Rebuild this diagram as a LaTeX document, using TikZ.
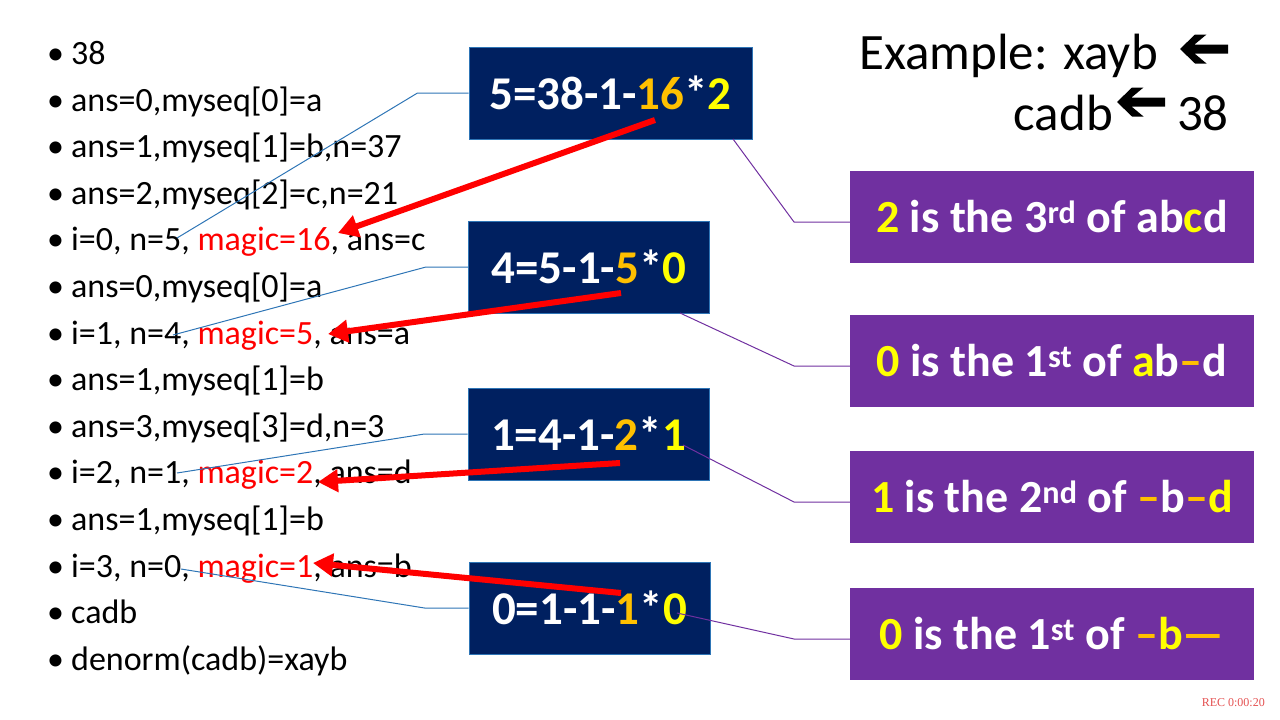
\documentclass[tikz,border=0pt]{standalone}
\usepackage{fontspec}
\setmainfont{Carlito}
\newfontfamily\recfont{Liberation Serif}
\usetikzlibrary{arrows.meta}
\definecolor{slide_navy}{RGB}{0, 32, 96}
\definecolor{slide_edge}{RGB}{46, 117, 182}
\definecolor{slide_purple}{RGB}{112, 48, 160}
\definecolor{slide_gold}{RGB}{255, 192, 0}
\definecolor{slide_yellow}{RGB}{255, 255, 0}
\definecolor{slide_red}{RGB}{255, 0, 0}
\definecolor{slide_rec}{RGB}{228, 80, 80}
\newcommand{\bul}{\makebox[24pt][l]{•}}
\newcommand{\mg}[1]{\textcolor{slide_red}{#1}}
\newcommand{\go}[1]{\textcolor{slide_gold}{#1}}
\newcommand{\ye}[1]{\textcolor{slide_yellow}{#1}}
\newcommand{\heavyleft}[1]{\fill #1 -- ++(15,-14.5) -- ++(11.5,0) -- ++(-12,10)
  -- ++(33.5,0) -- ++(0,9) -- ++(-33.5,0) -- ++(12,10) -- ++(-11.5,0) -- cycle;}

\begin{document}
\begin{tikzpicture}[
        x=1pt, y=-1pt,
        every node/.style={inner sep=0pt},
        item/.style={anchor=base west, font=\fontsize{34}{40}\selectfont},
        formula/.style={draw=slide_edge, line width=1pt, fill=slide_navy, text=white,
                        font=\bfseries\fontsize{47}{56}\selectfont, minimum height=92pt},
        result/.style={fill=slide_purple, text=white, font=\bfseries\fontsize{46}{55}\selectfont,
                       minimum width=404pt, minimum height=92pt},
        leadblue/.style={draw=slide_edge, line width=1pt},
        leadpurple/.style={draw=slide_purple, line width=1pt},
        magicarrow/.style={draw=slide_red, line width=6pt, -{Triangle[length=20pt, width=22pt]}},
      ]
        \useasboundingbox (0,0) rectangle (1280,720);

        % trace of the decoding
        \node[item] (l1)  at (47,64)  {\bul 38};
        \node[item] (l2)  at (47,111) {\bul ans=0,myseq[0]=a};
        \node[item] (l3)  at (47,157) {\bul ans=1,myseq[1]=b,n=37};
        \node[item] (l4)  at (47,204) {\bul ans=2,myseq[2]=c,n=21};
        \node[item] (l5)  at (47,250) {\bul i=0, n=5, \mg{magic=16}, ans=c};
        \node[item] (l6)  at (47,297) {\bul ans=0,myseq[0]=a};
        \node[item] (l7)  at (47,344) {\bul i=1, n=4, \mg{magic=5}, ans=a};
        \node[item] (l8)  at (47,390) {\bul ans=1,myseq[1]=b};
        \node[item] (l9)  at (47,437) {\bul ans=3,myseq[3]=d,n=3};
        \node[item] (l10) at (47,483) {\bul i=2, n=1, \mg{magic=2}, ans=d};
        \node[item] (l11) at (47,530) {\bul ans=1,myseq[1]=b};
        \node[item] (l12) at (47,577) {\bul i=3, n=0, \mg{magic=1}, ans=b};
        \node[item] (l13) at (47,623) {\bul cadb};
        \node[item] (l14) at (47,670) {\bul denorm(cadb)=xayb};

        % formulas
        \node[formula, minimum width=283pt] (b1) at (610.5,93)  {5=38-1-\go{16}*\ye{2}};
        \node[formula, minimum width=241pt] (b2) at (589,267)   {4=5-1-\go{5}*\ye{0}};
        \node[formula, minimum width=241pt] (b3) at (588.5,434) {1=4-1-\go{2}*\ye{1}};
        \node[formula, minimum width=241pt] (b4) at (589.5,608) {0=1-1-\go{1}*\ye{0}};

        % positions in the sequence
        \node[result] (p1) at (1052,217)   {\ye{2} is the 3\textsuperscript{rd} of ab\ye{c}d};
        \node[result] (p2) at (1052,360.5) {\ye{0} is the 1\textsuperscript{st} of \ye{a}b\go{–}d};
        \node[result] (p3) at (1052,496.5) {\ye{1} is the 2\textsuperscript{nd} of \go{–}b\go{–}\ye{d}};
        \node[result] (p4) at (1052,634)   {\ye{0} is the 1\textsuperscript{st} of \go{–}\ye{b}\go{—}};

        % example
        \node[anchor=base east, font=\fontsize{51}{60}\selectfont] (ex1) at (1158,69)  {Example: xayb};
        \node[anchor=base east, font=\fontsize{51}{60}\selectfont] (ex2) at (1113,130) {cadb};
        \node[anchor=base east, font=\fontsize{51}{60}\selectfont] (ex3) at (1229,130) {38};
        \heavyleft{(1180,49)}
        \heavyleft{(1117,102)}

        \node[anchor=east, font=\recfont\fontsize{12}{14}\selectfont, text=slide_rec] (rec) at (1265,703) {REC 0:00:20};

        % blue leaders to n
        \coordinate (hook1) at (177,238);
        \coordinate (hook2) at (173,335);
        \coordinate (hook3) at (177,473);
        \coordinate (hook4) at (181,569);
        \draw[leadblue] (b1.west) -- ++(-51,0) -- (hook1);
        \draw[leadblue] (b2.west) -- ++(-42,0) -- (hook2);
        \draw[leadblue] (b3.west) -- ++(-43,0) -- (hook3);
        \draw[leadblue] (b4.west) -- ++(-44,0) -- (hook4);

        % purple leaders to results
        \coordinate (lead1) at (733,139);  \coordinate (bend1) at (794,222);
        \coordinate (lead2) at (680,313);  \coordinate (bend2) at (794,366);
        \coordinate (lead3) at (683,445);  \coordinate (bend3) at (794,502);
        \coordinate (lead4) at (677,613);  \coordinate (bend4) at (794,639);
        \draw[leadpurple] (lead1) -- (bend1) -- (bend1 -| p1.west);
        \draw[leadpurple] (lead2) -- (bend2) -- (bend2 -| p2.west);
        \draw[leadpurple] (lead3) -- (bend3) -- (bend3 -| p3.west);
        \draw[leadpurple] (lead4) -- (bend4) -- (bend4 -| p4.west);

        % magic arrows
        \coordinate (src1) at (655,120);  \coordinate (tip1) at (338,233);
        \coordinate (src2) at (621,293);  \coordinate (tip2) at (328,334);
        \coordinate (src3) at (620,463);  \coordinate (tip3) at (318,482);
        \coordinate (src4) at (621,593);  \coordinate (tip4) at (313,563);
        \draw[magicarrow] (src1) -- (tip1);
        \draw[magicarrow] (src2) -- (tip2);
        \draw[magicarrow] (src3) -- (tip3);
        \draw[magicarrow] (src4) -- (tip4);
      \end{tikzpicture}
\end{document}
